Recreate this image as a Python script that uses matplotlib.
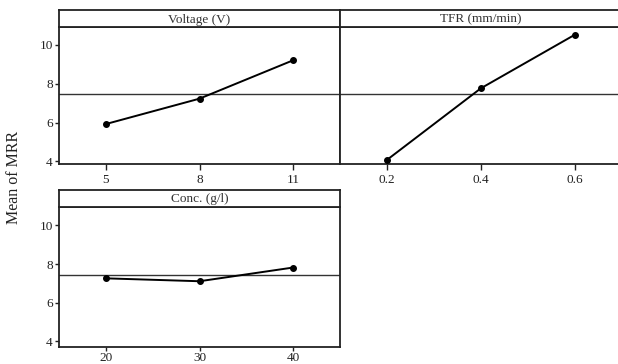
import matplotlib
matplotlib.use("Agg")
import matplotlib.pyplot as plt

plt.rcParams['font.family'] = ['Liberation Serif', 'DejaVu Serif']

voltage_levels = ["5", "8", "11"]
voltage_means = [5.92, 7.23, 9.21]
tfr_levels = ["0.2", "0.4", "0.6"]
tfr_means = [4.07, 7.76, 10.52]
conc_levels = ["20", "30", "40"]
conc_means = [7.26, 7.11, 7.82]
grand_mean = 7.45
yticks = [4, 6, 8, 10]

W, H = 618, 364
fig = plt.figure(figsize=(W / 100, H / 100), dpi=100)

def frac(x0, y0, x1, y1):
    return [x0 / W, 1 - y1 / H, (x1 - x0) / W, (y1 - y0) / H]

panels = [
    ("Voltage (V)", voltage_levels, voltage_means, (59, 10, 340, 27.3, 164), (3.86, 10.91), True, 3.5),
    ("TFR (mm/min)", tfr_levels, tfr_means, (340, 10, 621.5, 27.3, 164), (3.86, 10.91), False, 3.5),
    ("Conc. (g/l)", conc_levels, conc_means, (59, 189.5, 340, 206.7, 346.7), (3.72, 10.97), True, 1.0),
]

lw = 1.3
for title, levels, means, (x0, ys, x1, yb, y1), ylim, show_y, xpad in panels:
    ax = fig.add_axes(frac(x0, yb, x1, y1))
    xs = list(range(len(levels)))
    ax.plot(xs, means, color='black', lw=1.4, marker='o', ms=4, zorder=3)
    ax.axhline(grand_mean, color='#333333', lw=1.0, zorder=2)
    ax.set_xlim(-0.5, 2.5)
    ax.set_ylim(*ylim)
    ax.set_xticks(xs)
    ax.set_xticklabels(levels)
    ax.set_yticks(yticks)
    if not show_y:
        ax.tick_params(axis='y', left=False, labelleft=False)
    ax.tick_params(direction='out', length=3, width=1, pad=1.5, labelsize=9.5, colors='#222222')
    ax.tick_params(axis='x', length=4 if xpad > 2 else 3, pad=xpad)
    for s in ax.spines.values():
        s.set_linewidth(lw)
        s.set_color('#222222')
    sax = fig.add_axes(frac(x0, ys, x1, yb))
    sax.set_xticks([])
    sax.set_yticks([])
    for s in sax.spines.values():
        s.set_linewidth(lw)
        s.set_color('#222222')
    sax.text(0.5, 0.45, title, ha='center', va='center', fontsize=9.5, color='#333333',
             transform=sax.transAxes)

fig.text(14 / W, 1 - 177 / H, "Mean of MRR", rotation=90, ha='center', va='center',
         fontsize=11.5, color='#222222')

fig.savefig("out.png", dpi=100)
